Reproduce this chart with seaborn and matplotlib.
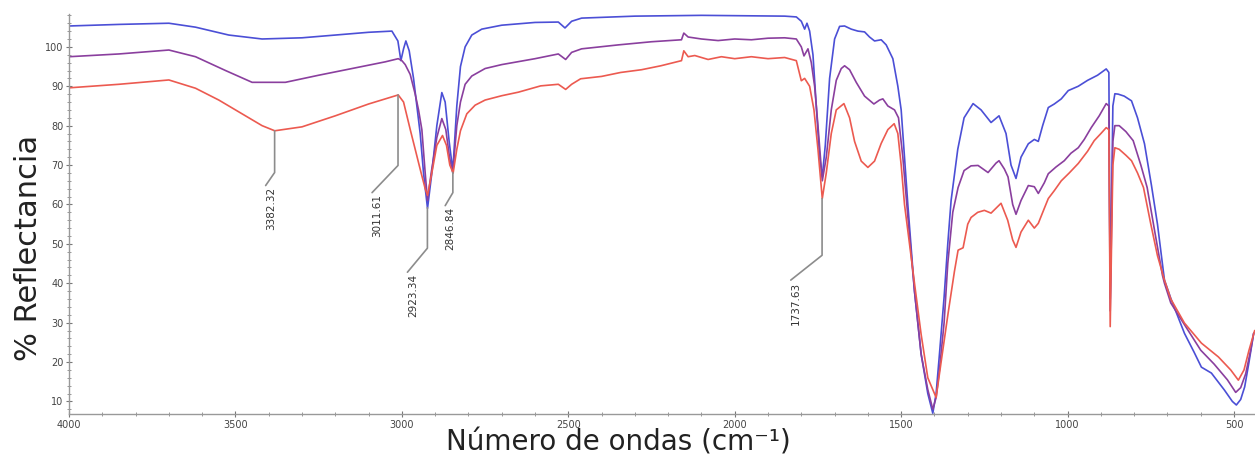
import matplotlib
matplotlib.use("Agg")
import matplotlib.pyplot as plt
from matplotlib.ticker import MultipleLocator
import seaborn as sns
import pandas as pd

# wavenumbers (cm-1) and % reflectance, one list per spectrum
blue_wn = [4000, 3850, 3700, 3620, 3520, 3420, 3300, 3200, 3100, 3030, 3012, 3003, 2995, 2988,
           2978, 2965, 2955, 2945, 2935, 2923, 2910, 2895, 2880, 2870, 2858, 2847, 2835, 2824,
           2810, 2790, 2760, 2700, 2600, 2530, 2510, 2490, 2460, 2300, 2100, 1850, 1815, 1800,
           1790, 1783, 1775, 1765, 1755, 1745, 1737, 1728, 1715, 1700, 1685, 1670, 1650, 1630,
           1610, 1595, 1580, 1560, 1545, 1525, 1510, 1500, 1480, 1460, 1440, 1420, 1405, 1395,
           1385, 1371, 1360, 1350, 1330, 1311, 1284, 1260, 1230, 1206, 1185, 1170, 1155, 1140,
           1118, 1100, 1088, 1075, 1058, 1040, 1019, 998, 968, 940, 910, 884, 876, 872, 868,
           864, 858, 848, 830, 808, 790, 769, 748, 730, 709, 688, 649, 620, 598, 568, 529, 505,
           493, 480, 468, 455, 441]
blue_r = [105.3, 105.7, 106.0, 105.0, 103.0, 102.0, 102.3, 103.0, 103.7, 104.0, 101.5, 96.5, 99.5, 101.5,
          99.0, 92.0, 85.0, 78.0, 68.0, 59.0, 68.0, 80.0, 88.4, 86.0, 76.0, 68.6, 85.0, 95.0,
          100.0, 103.0, 104.5, 105.5, 106.2, 106.3, 104.8, 106.5, 107.3, 107.8, 108.0, 107.8, 107.6, 106.5,
          104.5, 106.0, 104.0, 98.0, 85.0, 72.0, 67.0, 75.0, 92.0, 102.0, 105.2, 105.3, 104.5, 104.0,
          103.8, 102.5, 101.5, 101.8, 100.5, 97.0, 90.0, 84.0, 60.0, 38.0, 22.0, 12.0, 7.0, 12.0,
          22.0, 36.5, 50.0, 61.0, 74.0, 82.0, 85.6, 84.0, 80.8, 82.5, 78.0, 70.0, 66.6, 72.0,
          75.4, 76.5, 76.0, 80.0, 84.6, 85.5, 86.8, 88.9, 90.0, 91.5, 92.8, 94.4, 93.5, 36.0, 60.0,
          85.0, 88.1, 88.0, 87.5, 86.3, 82.0, 75.4, 64.8, 55.0, 40.8, 35.7, 27.3, 22.5, 18.7, 17.2, 12.9, 10.0,
          9.1, 10.5, 13.7, 20.0, 27.3]

purple_wn = [4000, 3850, 3700, 3620, 3530, 3450, 3350, 3250, 3150, 3050, 3011, 3000, 2990, 2975,
             2960, 2950, 2940, 2930, 2923, 2912, 2895, 2880, 2868, 2857, 2847, 2835, 2824, 2810,
             2790, 2750, 2700, 2600, 2530, 2508, 2490, 2460, 2350, 2250, 2160, 2153, 2140, 2100,
             2050, 2000, 1950, 1900, 1850, 1815, 1800, 1792, 1780, 1770, 1760, 1750, 1737, 1725,
             1710, 1695, 1680, 1670, 1655, 1635, 1610, 1582, 1565, 1555, 1540, 1520, 1508, 1495,
             1480, 1460, 1440, 1420, 1405, 1395, 1385, 1371, 1360, 1345, 1329, 1311, 1290, 1269,
             1239, 1215, 1206, 1190, 1179, 1165, 1155, 1140, 1118, 1100, 1088, 1070, 1058, 1035,
             1010, 990, 968, 950, 929, 905, 884, 876, 872, 868, 864, 858, 845, 825, 803, 780,
             761, 740, 715, 709, 690, 649, 600, 560, 520, 495, 480, 465, 450, 441]
purple_r = [97.5, 98.2, 99.2, 97.5, 94.0, 91.0, 91.0, 92.8, 94.5, 96.2, 97.0, 96.5, 95.5, 93.0,
            88.0, 84.0, 79.0, 68.0, 61.0, 68.0, 77.0, 81.8, 79.0, 72.0, 68.0, 80.0, 86.0, 90.5,
            92.6, 94.5, 95.5, 97.0, 98.2, 96.8, 98.6, 99.5, 100.5, 101.3, 101.8, 103.5, 102.5, 102.0,
            101.6, 102.0, 101.8, 102.2, 102.3, 102.0, 100.0, 97.7, 99.5, 96.0, 90.0, 80.0, 66.0, 72.0,
            84.0, 91.5, 94.5, 95.2, 94.2, 91.0, 87.5, 85.5, 86.5, 86.8, 85.0, 84.0, 82.0, 72.0,
            57.0, 38.0, 22.0, 13.0, 8.0, 11.0, 18.0, 30.0, 45.0, 58.0, 64.3, 68.6, 69.8, 69.9,
            68.1, 70.5, 71.1, 69.0, 67.0, 60.0, 57.5, 61.0, 64.8, 64.5, 62.8, 65.5, 67.8, 69.5,
            71.1, 73.0, 74.4, 76.5, 79.5, 82.5, 85.6, 85.0, 33.0, 55.0, 76.0, 80.0, 80.0, 78.5, 76.2, 70.0,
            64.3, 54.0, 42.0, 40.0, 35.0, 29.5, 23.0, 19.5, 15.5, 12.3, 13.5, 17.0, 23.0, 27.3]

red_wn = [4000, 3850, 3700, 3620, 3550, 3480, 3420, 3382, 3300, 3200, 3100, 3011, 2995, 2974,
          2960, 2944, 2930, 2923, 2910, 2895, 2878, 2866, 2856, 2846, 2835, 2824, 2805, 2780,
          2750, 2700, 2650, 2583, 2530, 2508, 2490, 2463, 2400, 2343, 2280, 2222, 2160, 2153,
          2140, 2120, 2080, 2040, 2000, 1950, 1900, 1850, 1815, 1800, 1790, 1775, 1762, 1750,
          1737, 1725, 1710, 1695, 1672, 1655, 1640, 1620, 1600, 1580, 1560, 1540, 1521, 1510,
          1500, 1490, 1475, 1460, 1440, 1420, 1395, 1380, 1359, 1340, 1329, 1314, 1300, 1290,
          1270, 1250, 1230, 1200, 1180, 1165, 1155, 1140, 1118, 1100, 1088, 1070, 1058, 1040,
          1019, 995, 968, 940, 920, 900, 884, 876, 872, 868, 864, 858, 845, 825, 808, 790,
          772, 750, 730, 709, 690, 649, 598, 547, 510, 487, 470, 455, 438]
red_r = [89.6, 90.5, 91.6, 89.5, 86.5, 83.0, 80.0, 78.7, 79.7, 82.5, 85.5, 87.8, 86.0, 78.7,
         74.0, 68.6, 64.0, 62.3, 68.0, 75.0, 77.5, 75.0, 70.0, 68.0, 74.0, 78.7, 83.0, 85.2,
         86.5, 87.6, 88.5, 90.1, 90.5, 89.2, 90.5, 91.9, 92.5, 93.5, 94.2, 95.2, 96.5, 99.0,
         97.5, 97.8, 96.8, 97.5, 97.0, 97.5, 97.0, 97.3, 96.5, 91.4, 92.0, 90.0, 84.0, 74.0,
         61.5, 68.0, 78.0, 84.0, 85.6, 82.0, 76.0, 71.0, 69.4, 71.0, 75.5, 79.0, 80.5, 78.0,
         70.0, 60.0, 50.0, 40.0, 27.0, 16.0, 11.0, 20.0, 32.4, 43.0, 48.4, 49.0, 55.0, 56.7,
         58.0, 58.5, 57.8, 60.3, 56.0, 51.0, 49.1, 53.0, 56.0, 54.0, 55.2, 59.0, 61.5, 63.5,
         66.0, 68.0, 70.4, 73.5, 76.2, 78.0, 79.5, 79.0, 29.0, 50.0, 70.0, 74.4, 74.0, 72.5, 71.1, 68.0,
         64.3, 55.0, 47.0, 40.8, 36.0, 29.9, 24.8, 21.3, 18.0, 15.4, 18.0, 23.0, 28.0]

# labelled peaks on the red spectrum
peak_labels = ["3382.32", "3011.61", "2923.34", "2846.84", "1737.63"]
peak_wn = [3382.32, 3011.61, 2923.34, 2846.84, 1737.63]
peak_r = [78.7, 87.8, 59.2, 68.1, 61.5]

colors = {"azul": "#4b4fd6", "morado": "#8a3f9e", "rojo": "#ec5a50"}

df = pd.concat([
    pd.DataFrame({"wn": blue_wn, "r": blue_r, "serie": "azul"}),
    pd.DataFrame({"wn": purple_wn, "r": purple_r, "serie": "morado"}),
    pd.DataFrame({"wn": red_wn, "r": red_r, "serie": "rojo"}),
])

sns.set_style("white")
fig = plt.figure(figsize=(12.55, 4.57), dpi=100)
ax = fig.add_axes([0.055, 0.094, 0.945, 0.875])

sns.lineplot(data=df, x="wn", y="r", hue="serie", palette=colors, sort=False,
             estimator=None, linewidth=1.2, legend=False, ax=ax)

# leader lines: straight drop, then a short slant to the label
drops = [10.6, 17.9, 10.3, 5.1, 14.4]
slants = [(27, 3.3), (78, 6.9), (60, 6.1), (23, 3.3), (94, 6.3)]
for lab, w, r, d, (dw, dr) in zip(peak_labels, peak_wn, peak_r, drops, slants):
    ax.plot([w, w, w + dw], [r, r - d, r - d - dr], color="#8c8c8c", linewidth=1.2)
    ax.text(w + dw - 16, r - d - dr - 0.4, lab, rotation=90, ha="center", va="top",
            fontsize=7.5, color="#333333")

ax.set_xlim(4000, 437)
ax.set_ylim(6.8, 108.3)
ax.xaxis.set_major_locator(MultipleLocator(500))
ax.xaxis.set_minor_locator(MultipleLocator(100))
ax.yaxis.set_major_locator(MultipleLocator(10))
ax.yaxis.set_minor_locator(MultipleLocator(2))
ax.set_yticks(range(10, 101, 10))
ax.tick_params(which="major", direction="inout", length=4, width=0.8, color="#777777",
               labelsize=7, labelcolor="#444444", pad=2)
ax.tick_params(which="minor", direction="inout", length=2.5, width=0.6, color="#888888")
ax.tick_params(axis="x", bottom=True, which="both")
ax.tick_params(axis="y", left=True, which="both")

for side in ["top", "right"]:
    ax.spines[side].set_visible(False)
for side in ["left", "bottom"]:
    ax.spines[side].set_color("#999999")
    ax.spines[side].set_linewidth(1.0)

ax.set_xlabel("Número de ondas (cm⁻¹)", fontsize=20, color="#222222")
ax.xaxis.set_label_coords(0.463, -0.036)
ax.set_ylabel("% Reflectancia", fontsize=22, color="#222222")
ax.yaxis.set_label_coords(-0.022, 0.415)

fig.savefig("out.png", dpi=100)
